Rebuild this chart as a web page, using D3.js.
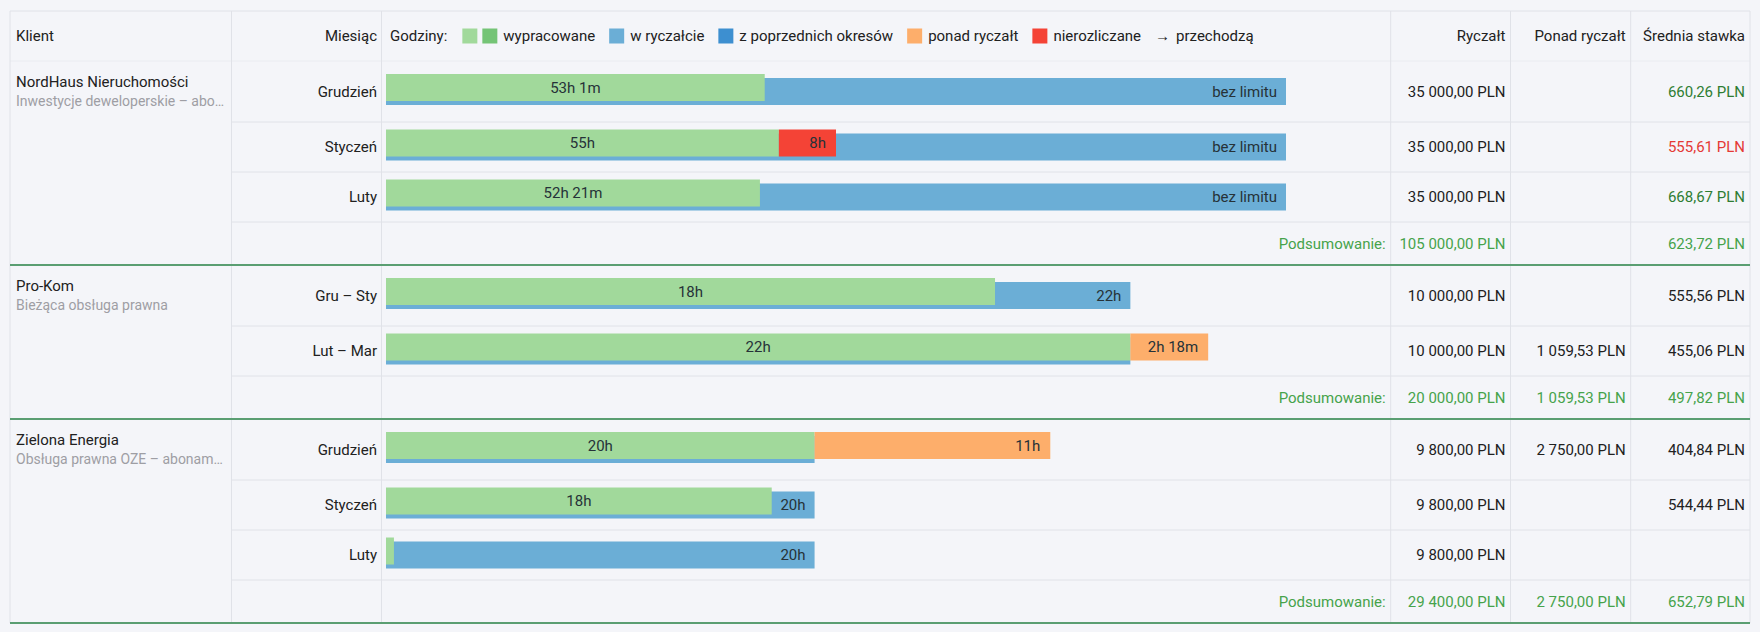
<!DOCTYPE html>
<html>
<head>
<meta charset="utf-8">
<title>Rozliczenia godzin – ryczałty</title>
<style>
  body { margin: 0; background: #f4f5f9; }
  svg { display: block; font-family: Roboto, "Noto Sans", sans-serif; font-size: 15px; }
  .note { font-size: 14px; }
</style>
</head>
<body>
<script src="https://cdn.jsdelivr.net/npm/d3@7/dist/d3.min.js"></script>
<script>
// data
var clients = ["NordHaus Nieruchomości", "Pro-Kom", "Zielona Energia"];
var clientNotes = ["Inwestycje deweloperskie – abonament miesięczny", "Bieżąca obsługa prawna", "Obsługa prawna OZE – abonament miesięczny"];
var months = [["Grudzień", "Styczeń", "Luty"], ["Gru – Sty", "Lut – Mar"], ["Grudzień", "Styczeń", "Luty"]];

// hours (bar segments), null in ryczałt = bez limitu
var worked = [[53.02, 55, 52.35], [18, 22], [20, 18, 0.37]];
var workedLabels = [["53h 1m", "55h", "52h 21m"], ["18h", "22h"], ["20h", "18h", ""]];
var inFlat = [[null, null, null], [22, 22], [20, 20, 20]];
var inFlatLabels = [["bez limitu", "bez limitu", "bez limitu"], ["22h", ""], ["", "20h", "20h"]];
var unbilled = [[0, 8, 0], [0, 0], [0, 0, 0]];
var unbilledLabels = [["", "8h", ""], ["", ""], ["", "", ""]];
var overFlat = [[0, 0, 0], [0, 2.3], [11, 0, 0]];
var overLabels = [["", "", ""], ["", "2h 18m"], ["11h", "", ""]];
var hoursMax = [126, 26.6, 42];

// money columns
var flatFee = [[35000, 35000, 35000], [10000, 10000], [9800, 9800, 9800]];
var overFee = [[null, null, null], [null, 1059.53], [2750, null, null]];
var avgRate = [[660.26, 555.61, 668.67], [555.56, 455.06], [404.84, 544.44, null]];
var rateStatus = [["good", "bad", "good"], ["", ""], ["", "", ""]];
var sumFlat = [105000, 20000, 29400];
var sumOver = [null, 1059.53, 2750];
var sumRate = [623.72, 497.82, 652.79];

var legendItems = [
  { label: "wypracowane", colors: ["#a1d99b", "#74c476"] },
  { label: "w ryczałcie", colors: ["#6baed6"] },
  { label: "z poprzednich okresów", colors: ["#3d8fd0"] },
  { label: "ponad ryczałt", colors: ["#fdae6b"] },
  { label: "nierozliczane", colors: ["#f44336"] }
];

// layout
var width = 1760, height = 632;
var cols = [10, 231.5, 381.5, 1390.7, 1510.5, 1630.7, 1750];
var tableTop = 11, headerH = 50;
var barStart = 386, barEnd = 1286;
var pad = 5;
var textColor = "#212121";
var lineColor = "#e0e2e8";
var groupLine = "#5a9e72";
var sumGreen = "#46a34b";

var plLocale = d3.formatLocale({ decimal: ",", thousands: " ", grouping: [3], currency: ["", ""] });
var fmt = plLocale.format(",.2f");
function pln(v) { return v == null ? "" : fmt(v) + " PLN"; }

var svg = d3.select("body").append("svg")
  .attr("width", width)
  .attr("height", height);

// rows
var rows = [], sums = [], groups = [];
var y = tableTop + headerH;
clients.forEach(function (c, gi) {
  var gTop = y;
  months[gi].forEach(function (m, ri) {
    var h = ri === 0 ? 61 : 50;
    rows.push({ gi: gi, ri: ri, top: y, h: h });
    y += h;
  });
  sums.push({ gi: gi, top: y, h: 43 });
  y += 43;
  groups.push({ gi: gi, top: gTop, bottom: y });
});
var tableBottom = y;

var grid = svg.append("g").attr("id", "grid");

// outer top border + header bottom
grid.append("line")
  .attr("x1", cols[0]).attr("x2", cols[6])
  .attr("y1", tableTop).attr("y2", tableTop)
  .attr("stroke", lineColor);
grid.append("line")
  .attr("x1", cols[0]).attr("x2", cols[6])
  .attr("y1", tableTop + headerH).attr("y2", tableTop + headerH)
  .attr("stroke", "#eaecf1");

// row lines inside a group (Klient cell spans all rows)
rows.filter(function (r) { return r.ri > 0; }).concat(sums).forEach(function (r) {
  grid.append("line")
    .attr("x1", cols[1]).attr("x2", cols[6])
    .attr("y1", r.top).attr("y2", r.top)
    .attr("stroke", lineColor);
});

// vertical lines
cols.forEach(function (cx) {
  grid.append("line")
    .attr("x1", cx).attr("x2", cx)
    .attr("y1", tableTop).attr("y2", tableBottom)
    .attr("stroke", lineColor);
});

// group separators
groups.forEach(function (g) {
  grid.append("line")
    .attr("x1", cols[0]).attr("x2", cols[6])
    .attr("y1", g.bottom).attr("y2", g.bottom)
    .attr("stroke", groupLine).attr("stroke-width", 2);
});

function txt(parent, x, yy, s, anchor, color) {
  return parent.append("text")
    .attr("x", x).attr("y", yy)
    .attr("dominant-baseline", "central")
    .attr("text-anchor", anchor || "start")
    .attr("fill", color || textColor)
    .text(s);
}

// header
var head = svg.append("g").attr("id", "header");
var hy = tableTop + headerH / 2;
txt(head, cols[0] + 6, hy, "Klient");
txt(head, cols[2] - 4.5, hy, "Miesiąc", "end");
txt(head, cols[4] - pad, hy, "Ryczałt", "end");
txt(head, cols[5] - pad, hy, "Ponad ryczałt", "end");
txt(head, cols[6] - pad, hy, "Średnia stawka", "end");

// legend
var lx = 390;
var t = txt(head, lx, hy, "Godziny:");
lx += t.node().getComputedTextLength() + 15;
legendItems.forEach(function (item) {
  item.colors.forEach(function (c, i) {
    head.append("rect")
      .attr("x", lx).attr("y", hy - 7.5)
      .attr("width", 15).attr("height", 15)
      .attr("fill", c);
    lx += 15 + (i < item.colors.length - 1 ? 5 : 6);
  });
  var tt = txt(head, lx, hy, item.label);
  lx += tt.node().getComputedTextLength() + 14;
});
var arrow = txt(head, lx, hy, "→");
lx += arrow.node().getComputedTextLength() + 6;
txt(head, lx, hy, "przechodzą");

// client cells
var cl = svg.append("g").attr("id", "clients");
groups.forEach(function (g) {
  txt(cl, cols[0] + 6, g.top + 21, clients[g.gi]);
  var sub = txt(cl, cols[0] + 6, g.top + 40, clientNotes[g.gi], "start", "#9e9ea4").attr("class", "note");
  var full = clientNotes[g.gi], maxW = 211;
  if (sub.node().getComputedTextLength() > maxW) {
    var n = full.length;
    while (n > 0) {
      sub.text(full.slice(0, n).replace(/\s+$/, "") + "…");
      if (sub.node().getComputedTextLength() <= maxW) break;
      n--;
    }
  }
});

// month rows
var body = svg.append("g").attr("id", "rows");
rows.forEach(function (r) {
  var gi = r.gi, ri = r.ri;
  var cy = r.top + r.h / 2;
  txt(body, cols[2] - 4.5, cy, months[gi][ri], "end");

  var x = d3.scaleLinear().domain([0, hoursMax[gi]]).range([barStart, barEnd]);
  var bars = body.append("g");
  var gTop = cy - 17.5, bTop = cy - 13.5, bh = 27;

  // w ryczałcie (underneath, shifted down)
  var flat = inFlat[gi][ri] == null ? hoursMax[gi] : inFlat[gi][ri];
  bars.append("rect")
    .attr("x", x(0)).attr("y", bTop)
    .attr("width", x(flat) - x(0)).attr("height", bh)
    .attr("fill", "#6baed6");

  var w = worked[gi][ri], u = unbilled[gi][ri], o = overFlat[gi][ri];
  var segs = [
    { from: 0, to: w, color: "#a1d99b", label: workedLabels[gi][ri], center: true },
    { from: w, to: w + u, color: "#f44336", label: unbilledLabels[gi][ri] },
    { from: w + u, to: w + u + o, color: "#fdae6b", label: overLabels[gi][ri] }
  ];
  segs.forEach(function (s) {
    if (s.to <= s.from) return;
    bars.append("rect")
      .attr("x", x(s.from)).attr("y", gTop)
      .attr("width", x(s.to) - x(s.from)).attr("height", bh)
      .attr("fill", s.color);
  });

  // labels on top
  var fl = inFlatLabels[gi][ri];
  if (fl) txt(bars, x(flat) - 9, bTop + bh / 2, fl, "end", "#263238");
  segs.forEach(function (s) {
    if (!s.label || s.to <= s.from) return;
    if (s.center) txt(bars, (x(s.from) + x(s.to)) / 2, gTop + bh / 2, s.label, "middle", "#263238");
    else txt(bars, x(s.to) - 10, gTop + bh / 2, s.label, "end", "#263238");
  });

  txt(body, cols[4] - pad, cy, pln(flatFee[gi][ri]), "end");
  txt(body, cols[5] - pad, cy, pln(overFee[gi][ri]), "end");
  var st = rateStatus[gi][ri];
  txt(body, cols[6] - pad, cy, pln(avgRate[gi][ri]), "end", st === "good" ? "#2e7d32" : st === "bad" ? "#e53935" : textColor);
});

// summaries
var sumG = svg.append("g").attr("id", "summaries");
sums.forEach(function (s) {
  var cy = s.top + s.h / 2;
  txt(sumG, cols[3] - pad, cy, "Podsumowanie:", "end", sumGreen);
  txt(sumG, cols[4] - pad, cy, pln(sumFlat[s.gi]), "end", sumGreen);
  txt(sumG, cols[5] - pad, cy, pln(sumOver[s.gi]), "end", sumGreen);
  txt(sumG, cols[6] - pad, cy, pln(sumRate[s.gi]), "end", sumGreen);
});
</script>
</body>
</html>
